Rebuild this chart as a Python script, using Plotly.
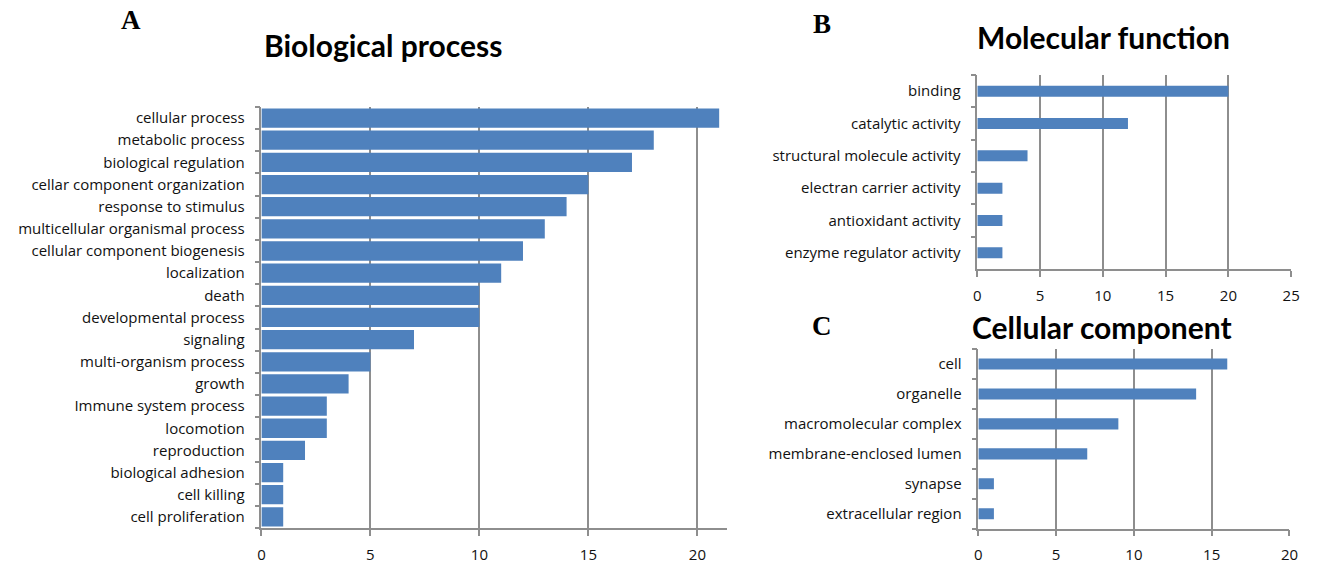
import plotly.graph_objects as go

# Gene Ontology category counts
bp_terms = [
    "cellular process", "metabolic process", "biological regulation",
    "cellar component organization", "response to stimulus",
    "multicellular organismal process", "cellular component biogenesis",
    "localization", "death", "developmental process", "signaling",
    "multi-organism process", "growth", "Immune system process",
    "locomotion", "reproduction", "biological adhesion", "cell killing",
    "cell proliferation",
]
bp_counts = [21, 18, 17, 15, 14, 13, 12, 11, 10, 10, 7, 5, 4, 3, 3, 2, 1, 1, 1]

mf_terms = [
    "binding", "catalytic activity", "structural molecule activity",
    "electran carrier activity", "antioxidant activity",
    "enzyme regulator activity",
]
mf_counts = [20, 12, 4, 2, 2, 2]

cc_terms = [
    "cell", "organelle", "macromolecular complex",
    "membrane-enclosed lumen", "synapse", "extracellular region",
]
cc_counts = [16, 14, 9, 7, 1, 1]

BAR = "#4F81BD"
GRID = "#8e8e8e"
FONT = "Open Sans"
TITLE_FONT = "Lato"
TXT = "#111111"

fig = go.Figure()

panels = [
    ("x", "y", bp_terms, bp_counts),
    ("x2", "y2", mf_terms, mf_counts),
    ("x3", "y3", cc_terms, cc_counts),
]
for xa, ya, terms, counts in panels:
    fig.add_trace(go.Bar(
        x=counts, y=terms, orientation="h", xaxis=xa, yaxis=ya,
        marker=dict(color=BAR, line=dict(width=0)), showlegend=False,
    ))


def xaxis_style(domain, rng, anchor):
    return dict(
        domain=domain, range=rng, anchor=anchor, dtick=5, tick0=0,
        showgrid=True, gridcolor=GRID, gridwidth=1.5,
        showline=True, linecolor=GRID, linewidth=1.5,
        ticks="outside", ticklen=6, tickcolor=GRID, tickwidth=1.5,
        ticklabelstandoff=6, zeroline=False,
        tickfont=dict(family=FONT, size=15, color=TXT),
    )


def yaxis_style(domain, anchor, terms):
    return dict(
        domain=domain, anchor=anchor, type="category",
        categoryorder="array", categoryarray=terms[::-1],
        showgrid=False, showline=True, linecolor=GRID, linewidth=1.5,
        ticks="outside", ticklen=5, tickcolor=GRID, tickwidth=1.5,
        tickson="boundaries", ticklabelstandoff=12,
        tickfont=dict(family=FONT, size=15, color=TXT),
    )


fig.update_layout(
    width=1317, height=569,
    margin=dict(l=0, r=0, t=0, b=0),
    paper_bgcolor="white", plot_bgcolor="white",
    bargap=0.13,
    xaxis=xaxis_style([0.1974, 0.5543], [0, 21.35], "y"),
    yaxis=yaxis_style([0.0721, 0.8120], "x", bp_terms),
    xaxis2=xaxis_style([0.7464, 0.9871], [0, 25], "y2"),
    yaxis2=yaxis_style([0.5272, 0.8682], "x2", mf_terms),
    xaxis3=xaxis_style([0.7472, 0.9858], [0, 20], "y3"),
    yaxis3=yaxis_style([0.0708, 0.3866], "x3", cc_terms),
)

# thinner bars in the two right-hand panels
fig.data[1].update(width=0.34)
fig.data[2].update(width=0.37)

titles = [
    ("Biological process", 383, 45),
    ("Molecular function", 1110, 37),
    ("Cellular component", 1109, 327),
]
for text, x, y in titles:
    fig.add_annotation(
        text=f"<b>{text}</b>", x=x / 1317, y=1 - y / 569,
        xref="paper", yref="paper", xanchor="center", yanchor="middle",
        showarrow=False, font=dict(family=TITLE_FONT, size=30, color="#000"),
    )

letters = [("A", 128, 20), ("B", 826, 24), ("C", 826, 326)]
for text, x, y in letters:
    fig.add_annotation(
        text=f"<b>{text}</b>", x=x / 1317, y=1 - y / 569,
        xref="paper", yref="paper", xanchor="center", yanchor="middle",
        showarrow=False,
        font=dict(family="Liberation Serif", size=27, color="#000"),
    )

fig.write_html("out.html")
